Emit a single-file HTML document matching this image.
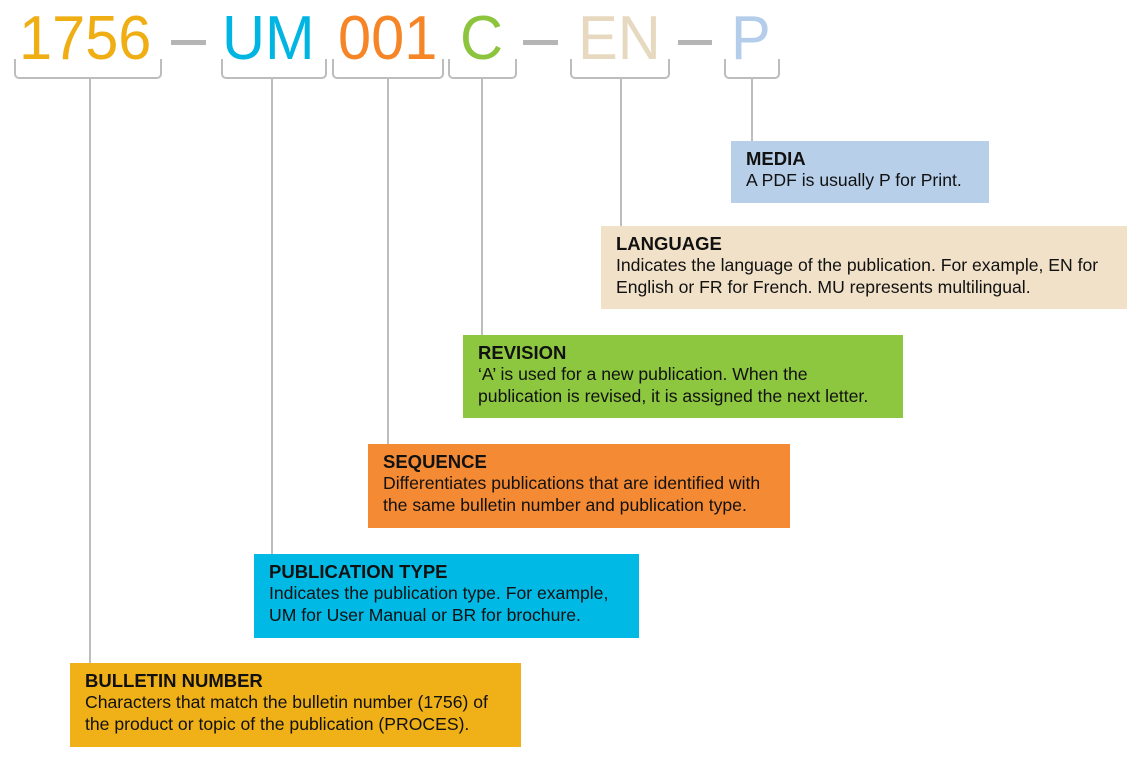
<!DOCTYPE html>
<html><head><meta charset="utf-8"><style>
body{margin:0;width:1140px;height:763px;background:#fff;position:relative;overflow:hidden;font-family:"Liberation Sans",Arial,sans-serif;}
.g{position:absolute;font-size:62px;line-height:62px;top:8px;transform-origin:0 0;transform:scaleX(0.96);white-space:nowrap;}
.d{position:absolute;height:5px;background:#b5b5b5;top:40px;}
.br{position:absolute;top:59px;height:20px;border:2px solid #bdbdbd;border-top:none;border-radius:0 0 5px 5px;box-sizing:border-box;}
.st{position:absolute;width:2px;background:#bdbdbd;top:78px;}
.b{position:absolute;box-sizing:border-box;padding:7px 15px 0 15px;color:#111;font-size:17.6px;line-height:21.5px;white-space:nowrap;}
.b b{font-size:18.5px;display:block;line-height:22px;}
</style></head><body>
<div class="g" style="left:19px;color:#efae14">1756</div>
<div class="d" style="left:171px;width:35px"></div>
<div class="g" style="left:222px;color:#00b5e2">UM</div>
<div class="g" style="left:338px;color:#f58526">001</div>
<div class="g" style="left:460px;color:#8cc43e">C</div>
<div class="d" style="left:523px;width:35px"></div>
<div class="g" style="left:578px;color:#e6d9c0">EN</div>
<div class="d" style="left:678px;width:34px"></div>
<div class="g" style="left:731px;color:#b3cdea">P</div>

<div class="br" style="left:14px;width:148px"></div>
<div class="br" style="left:221px;width:106px"></div>
<div class="br" style="left:332px;width:112px"></div>
<div class="br" style="left:448px;width:69px"></div>
<div class="br" style="left:570px;width:100px"></div>
<div class="br" style="left:724px;width:56px"></div>

<div class="st" style="left:89px;height:585px"></div>
<div class="st" style="left:271px;height:476px"></div>
<div class="st" style="left:387px;height:366px"></div>
<div class="st" style="left:481px;height:257px"></div>
<div class="st" style="left:620px;height:148px"></div>
<div class="st" style="left:751px;height:63px"></div>

<div class="b" style="left:731px;top:141px;width:258px;height:62px;background:#b8cfea"><b>MEDIA</b>A PDF is usually P for Print.</div>
<div class="b" style="left:601px;top:226px;width:526px;height:83px;background:#f0e1c8"><b>LANGUAGE</b>Indicates the language of the publication. For example, EN for<br>English or FR for French. MU represents multilingual.</div>
<div class="b" style="left:463px;top:335px;width:440px;height:83px;background:#8dc63f"><b>REVISION</b>‘A’ is used for a new publication. When the<br>publication is revised, it is assigned the next letter.</div>
<div class="b" style="left:368px;top:444px;width:422px;height:84px;background:#f58a34"><b>SEQUENCE</b>Differentiates publications that are identified with<br>the same bulletin number and publication type.</div>
<div class="b" style="left:254px;top:554px;width:385px;height:84px;background:#00b9e4"><b>PUBLICATION TYPE</b>Indicates the publication type. For example,<br>UM for User Manual or BR for brochure.</div>
<div class="b" style="left:70px;top:663px;width:451px;height:84px;background:#efb018"><b>BULLETIN NUMBER</b>Characters that match the bulletin number (1756) of<br>the product or topic of the publication (PROCES).</div>
</body></html>
